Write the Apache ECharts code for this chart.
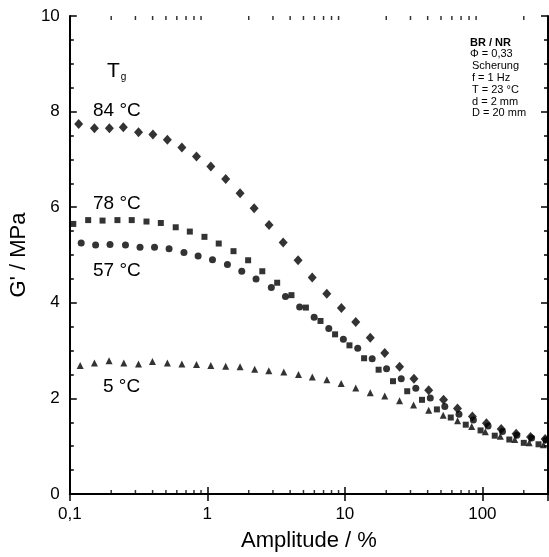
<!DOCTYPE html>
<html><head><meta charset="utf-8">
<script src="https://cdn.jsdelivr.net/npm/echarts@6/dist/echarts.min.js"></script>
<style>html,body{margin:0;padding:0;background:#fff}#c{width:549px;height:557px}</style>
</head><body><div id="c"></div>
<script>
const amp84 = [0.116,0.151,0.194,0.245,0.316,0.402,0.512,0.653,0.834,1.06,1.36,1.73,2.19,2.81,3.56,4.57,5.79,7.39,9.44,12.0,15.3,19.5,25.0,31.8,40.7,52.2,65.9,84.6,107,137,176,224,286];
const g84 = [7.74,7.65,7.65,7.67,7.57,7.52,7.41,7.25,7.06,6.85,6.59,6.29,5.98,5.63,5.26,4.89,4.53,4.19,3.89,3.60,3.27,2.95,2.66,2.41,2.17,1.97,1.79,1.62,1.48,1.36,1.26,1.19,1.15];
const amp78 = [0.106,0.136,0.173,0.222,0.282,0.361,0.459,0.589,0.746,0.953,1.21,1.55,1.98,2.51,3.22,4.09,5.21,6.65,8.49,10.8,13.8,17.6,22.4,28.4,36.4,46.7,58.9,75.7,97,123,157,200,256];
const g78 = [5.65,5.73,5.72,5.73,5.73,5.70,5.67,5.58,5.49,5.38,5.24,5.08,4.89,4.66,4.42,4.16,3.90,3.62,3.34,3.11,2.84,2.60,2.36,2.15,1.97,1.77,1.60,1.45,1.33,1.22,1.14,1.07,1.04];
const amp57 = [0.121,0.154,0.196,0.254,0.324,0.413,0.527,0.676,0.857,1.09,1.40,1.78,2.26,2.92,3.70,4.69,5.98,7.64,9.75,12.4,15.8,20.1,25.7,32.8,41.8,53.3,67.6,86,110,140,178,228,290];
const g57 = [5.25,5.21,5.22,5.21,5.16,5.16,5.13,5.05,4.98,4.90,4.80,4.66,4.50,4.32,4.13,3.91,3.70,3.46,3.24,3.05,2.83,2.62,2.41,2.21,2.01,1.83,1.67,1.55,1.42,1.31,1.23,1.17,1.13];
const amp5 = [0.119,0.151,0.193,0.247,0.316,0.399,0.512,0.653,0.834,1.06,1.36,1.73,2.21,2.8,3.6,4.6,5.8,7.4,9.4,12.0,15.3,19.5,25,31.6,40.7,51.9,66,83.6,105,135,172,219,278];
const g5 = [2.69,2.74,2.79,2.74,2.72,2.77,2.74,2.72,2.71,2.69,2.67,2.66,2.61,2.58,2.55,2.50,2.45,2.39,2.31,2.22,2.12,2.05,1.95,1.86,1.75,1.65,1.53,1.41,1.30,1.21,1.14,1.07,1.03];
const xMinorTicks = [0.2,0.3,0.4,0.5,0.6,0.7,0.8,0.9,2,3,4,5,6,7,8,9,20,30,40,50,60,70,80,90,200];
const seriesLabels = ['84 °C','78 °C','57 °C','5 °C'];
const infoLines = ['BR / NR','Φ = 0,33','Scherung','f = 1 Hz','T = 23 °C','d = 2 mm','D = 20 mm'];

const FONT = 'Liberation Sans, Arial, sans-serif';
const chart = echarts.init(document.getElementById('c'));
const zip = (a,b) => a.map((v,i)=>[v,b[i]]);
const axisLine = {show:true, lineStyle:{color:'#000', width:2}};
const xCommon = {type:'log', min:0.1, max:300, logBase:10,
  axisLine, axisTick:{show:true, inside:true, length:7, lineStyle:{color:'#000', width:1.5}},
  splitLine:{show:false}, minorTick:{show:false}, minorSplitLine:{show:false}};
const yCommon = {type:'value', min:0, max:10, interval:2,
  axisLine, axisTick:{show:true, inside:true, length:7, lineStyle:{color:'#000', width:1.5}},
  minorTick:{show:true, splitNumber:4, length:4, lineStyle:{color:'#000', width:1.5}},
  splitLine:{show:false}};
function tickSeries(y, off){
  return {type:'scatter', xAxisIndex:0, yAxisIndex:0, silent:true, clip:false,
    symbol:'rect', symbolSize:[1.5,4], symbolOffset:[0,off],
    itemStyle:{color:'#000'}, data: xMinorTicks.map(v=>[v,y]), z:1};
}
const mk = (sym,size) => ({symbol:sym, symbolSize:size, itemStyle:{color:'#000'}});
chart.setOption({
  animation:false,
  grid:{left:67, right:1, top:16, bottom:58, containLabel:false},
  xAxis:[
    Object.assign({}, xCommon, {position:'bottom', name:'Amplitude / %', nameLocation:'middle', nameGap:36,
      nameTextStyle:{fontFamily:FONT, fontSize:22, color:'#000'},
      axisLabel:{show:true, margin:12, fontFamily:FONT, fontSize:17, color:'#000', showMaxLabel:false,
        formatter: v => { const r = Math.round(v*1000)/1000; return String(r).replace('.', ','); }}}),
    Object.assign({}, xCommon, {position:'top', axisLabel:{show:false}})
  ],
  yAxis:[
    Object.assign({}, yCommon, {position:'left', name:"G' / MPa", nameLocation:'middle', nameGap:24,
      nameTextStyle:{fontFamily:FONT, fontSize:22, color:'#000'},
      axisLabel:{show:true, margin:10, fontFamily:FONT, fontSize:17, color:'#000'}}),
    Object.assign({}, yCommon, {position:'right', axisLabel:{show:false}})
  ],
  series:[
    tickSeries(0, -2), tickSeries(10, 2),
    Object.assign({type:'scatter', name:'84', data:zip(amp84,g84)}, mk('diamond',[9,10])),
    Object.assign({type:'scatter', name:'78', data:zip(amp78,g78)}, mk('rect',6)),
    Object.assign({type:'scatter', name:'57', data:zip(amp57,g57)}, mk('circle',7)),
    Object.assign({type:'scatter', name:'5', data:zip(amp5,g5)}, mk('triangle',7))
  ],
  graphic:[
    {type:'text', left:107, top:61, style:{text:'{t|T}{g|g}', rich:{t:{fontFamily:FONT,fontSize:21,fill:'#000'},g:{fontFamily:FONT,fontSize:10,fill:'#000',verticalAlign:'bottom',padding:[12,0,0,1]}}}},
    {type:'text', left:93, top:101, style:{text:seriesLabels[0], fontFamily:FONT, fontSize:19, fill:'#000'}},
    {type:'text', left:93, top:194, style:{text:seriesLabels[1], fontFamily:FONT, fontSize:19, fill:'#000'}},
    {type:'text', left:93, top:261, style:{text:seriesLabels[2], fontFamily:FONT, fontSize:19, fill:'#000'}},
    {type:'text', left:103, top:377, style:{text:seriesLabels[3], fontFamily:FONT, fontSize:19, fill:'#000'}},
    ...infoLines.map((t,i)=>({type:'text', left: i<2?470:472, top:37+i*11.8,
      style:{text:t, fontFamily:FONT, fontSize:11, fill:'#000', fontWeight: i===0?'bold':'normal'}}))
  ]
});
</script></body></html>
